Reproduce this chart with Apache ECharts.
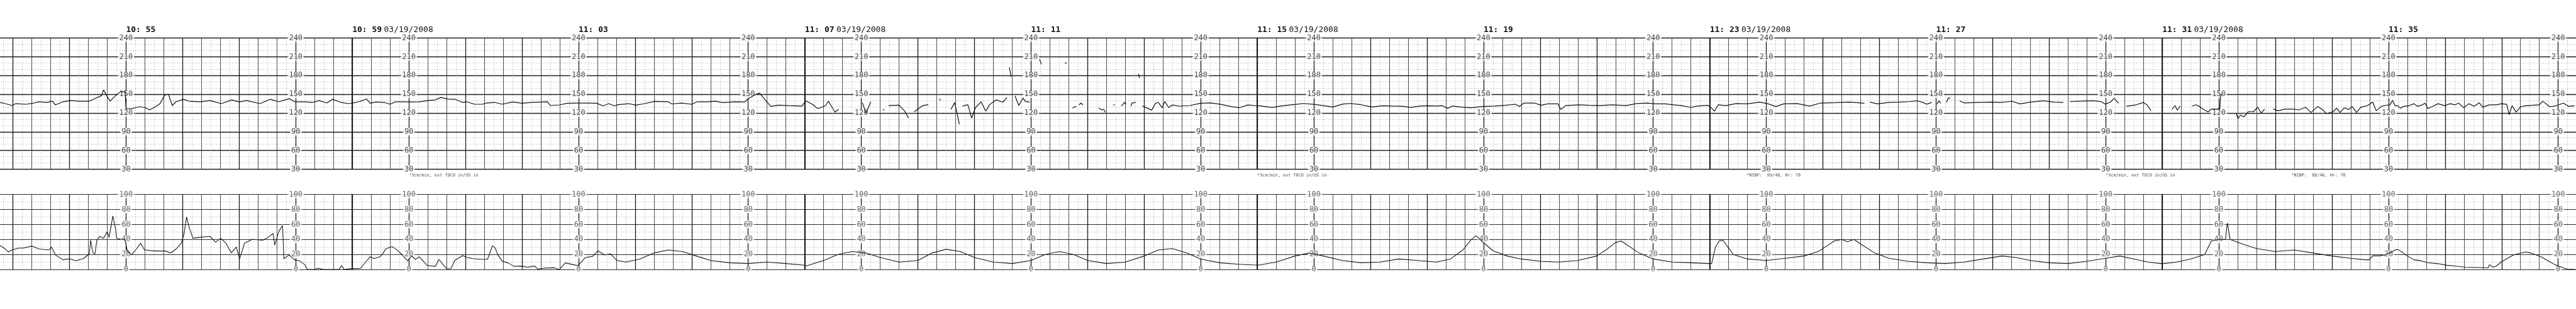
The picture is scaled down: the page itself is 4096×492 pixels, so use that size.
<!DOCTYPE html>
<html><head><meta charset="utf-8">
<script src="https://cdn.jsdelivr.net/npm/echarts@6/dist/echarts.min.js"></script>
<style>html,body{margin:0;padding:0;background:#fff;}#c{width:4096px;height:492px;}</style>
</head><body><div id="c"></div>
<script>
// ---------- DATA (x = seconds after 10:55:00 along the strip) ----------
const fhrTicks = [240, 210, 180, 150, 120, 90, 60, 30];
const ucTicks = [100, 80, 60, 40, 20, 0];
const columnSec = [0, 180, 300, 480, 660, 780, 960, 1140, 1260, 1440, 1620, 1740, 1920, 2100, 2220, 2400, 2580];
const timeTickSec = [0, 240, 480, 720, 960, 1200, 1440, 1680, 1920, 2160, 2400];
const timeLabels = ['10: 55', '10: 59', '11: 03', '11: 07', '11: 11', '11: 15', '11: 19', '11: 23', '11: 27', '11: 31', '11: 35'];
const timeDates = ['', '03/19/2008', '', '03/19/2008', '', '03/19/2008', '', '03/19/2008', '', '03/19/2008', ''];
const pageStartSec = [240, 720, 1200, 1680, 2160];
const noteSec = [300, 1200, 1719, 2100, 2297];
const noteTexts = ['*3cm/min, ext TOCO in/US in', '*3cm/min, ext TOCO in/US in', '*NIBP:  99/48, Hr: 78', '*3cm/min, ext TOCO in/US in', '*NIBP:  88/46, Hr: 70'];

// FHR (bpm), per page
const fhrSec1 = [-134,-128,-121,-117,-106,-98,-92,-84,-78,-75, -67,-59,-50,-39,-33,-26,-24,-21,-17,-11, -6,-1,0,6,14,20,25,31,36,41, 45,49,53,61,67,78,89,101,112,120, 128,142,153,162,173,179,190,198,205,213, 219,228,236];
const fhrBpm1 = [137,135,132,135,134,136,138,137,139,133, 138,140,139,139,143,148,157,149,139,148, 154,154,127,127,130,129,125,130,135,149, 150,132,138,142,139,138,140,135,141,138, 140,135,142,138,143,138,138,137,140,136, 142,137,135];
const fhrSec2 = [244,251,255,259,265,274,280,286,295,303, 311,320,328,334,341,349,357,361,370,378, 382,391,399,410,420,430,441,447,450,460, 468,480,491,499,506,512,518,522,533,541, 550,561,575,579,589,600,606,617,625,633, 645,656,660,667,672,678,684,692,703,717];
const fhrBpm2 = [137,140,142.5,135.6,137.6,137,134,138,138,137.6, 138,140,141,145,142.5,142,137,138,134,134, 136,137,134,137.6,135.6,137,137.6,138,132,133, 135.6,136,136,135.6,131.5,135,131.5,133.4,135,132.6, 135,138.7,138,134.5,136,134,138,138,139,136.7, 138,137.6,142.8,149,152,141,130.7,132.6,131.8,131.2];
const fhrSec3 = [721,728,734,742,745,752,756,757,781,785, 790,791,803,804,805,809,820,826,830,831, 836,845,851,852,863,864,865,875,879,884, 885,887,893,897,901,907,912,916,923,930, 934.5,936,937,939,940,943,947,951.5,954,958.5, 960,969,971,972,996,998,999,1004,1008,1009, 1011,1013,1015,1016,1032,1035,1037,1039,1040,1047, 1049,1050,1056,1059,1061,1062,1066,1067,1071,1072, 1074,1075,1076,1078,1084,1088,1092,1095,1099,1102, 1106,1110,1117,1128.5,1140,1151,1162,1173,1181.5,1190];
const fhrBpm3 = [139.5,134,127,131.8,139,121.5,126,null,136.7,120, 138,null,126,124,null,131.8,132.6,123,112,null, 122,131.8,133.4,null,143,140,null,125.7,136.7,102, null,131,133.4,112,128.5,138,123,133.4,141,137.3, 145,null,193,178,null,147.5,132,144,138.4,137.6, null,206,198,null,200,200,null,128,131,null, 133,136,133,null,128,125,126,121,null,133, 133,null,131,137,134,null,131,136,137,null, 183,176,null,131.5,127.4,124.6,135.6,137,128.7,138.4, 128.7,132.9,131,132,135.6,136.2,133.7,130.1,128.7,132.9];
const fhrSec4 = [1200,1202,1215.5,1227,1241,1249,1260,1271,1280,1291, 1299,1310,1321.5,1333,1344,1355,1363,1372,1383,1391, 1396,1402,1407,1416,1427,1438,1452,1463,1474,1478, 1483,1494,1501,1508,1519,1522,1527,1541,1552,1563, 1577,1591,1602.5,1614,1622,1633,1641.5,1650,1660,1667, 1678];
const fhrBpm4 = [131.5,131.7,128.9,131.7,133.9,135.3,133.9,131.7,129.7,134.4, 135.3,133.3,129.7,131.7,131.1,130.6,128.9,131.1,131.7,131.1, 131.8,127.6,131.2,129.6,128.4,130.4,131.2,132.4,134,130.4, 136,136,132.4,134.6,134.6,125.6,131.8,133.2,132.4,131.8, 133.2,131.8,135.2,136,134.6,134.6,133.2,131.8,129,131.2, 132.4];
const fhrSec5 = [1682,1685,1689,1697,1708,1719.5,1733,1742,1750,1758.5, 1772.5,1786,1797.6,1814,1828,1833,1844,1847,1850,1858, 1869.5,1880.6,1892,1900,1906,1910,1915.5,1918,1921,1923, 1925,1927,1931,1933,1935,1938,1945,1950,1964,1978, 1989,2000.5,2009,2020,2034,2045,2055,2058,2062,2076, 2087,2095,2099.5,2105,2109,2113.5,2117,2122,2131.6,2140, 2144,2148,2150];
const fhrBpm5 = [127.6,123,133.2,131.8,135.2,134.6,137.4,134.6,130.4,134.6, 135.2,131.2,136,136.6,137.4,137,135.6,null,137.5,134.7, 136.9,137.5,138.3,139.6,136.9,134.2,136.9,null,134,139.6, 135.6,null,137,144,143.7,null,139.6,136.1,136.9,137.5, 136.9,138.8,134.7,137.5,139.6,137.5,136.9,null,138.3,139.1, 139.6,138.3,134.2,137.5,143.7,135.6,null,130.9,132.8,136.9, 132.8,123.8,null];
const fhrSec6 = [2170.6,2173.4,2176,2179,2183,2191.5,2195.7,2199.3,2203,2208.5, 2212,2217.6,2221,2222,2224,2226,2238.5,2240.3,2243,2246.7, 2251.3,2256.7,2261.3,2265,2268.6,2272,2277.7,2283,2290.4,2297.7, 2305,2312.3,2317.7,2325,2330.5,2334,2341.4,2345,2348.7,2353, 2357.8,2361.4,2366,2370.5,2377.8,2383.3,2386.9,2392.4,2396,2401.5, 2404.3,2407,2409.7,2412.4,2416,2421.6,2427,2430.6,2436,2438.8, 2441.6,2447,2452.5,2459.8,2465.3,2470.7,2474.4,2479.8,2485.3,2490.8, 2496.2,2500,2507,2514.5,2520,2525.4,2528,2531,2535.4,2540, 2545.4,2552.7,2560,2563.6,2571,2578,2585.5,2591,2597.3];
const fhrBpm6 = [126,132,124.5,131,null,131,133.3,130.6,126.4,121.7, 126.4,126.4,126.4,148.6,150,null,118.9,111,116.7,113.9, 122.2,122.2,129.2,120,126.4,null,126.4,123.6,126.4,126.4, 125,129.2,120.8,130.6,125,118.9,122.2,127.8,120.8,128.3, 125.6,130.6,120.8,129.2,132,137.5,123.6,130.6,132,133.2, 140.2,131.7,131.7,127.6,130.7,131.7,134.9,130.7,133.2,135.8, 127,130.7,134.9,131.7,134.9,133.2,135.8,128.4,134.9,130.7, 136.4,129.4,133.2,133.2,134.9,133.9,117.4,131.7,121.3,130, 131.7,132.4,133.2,138.9,130,131.7,135.8,130.7,131.7];

// UC (mmHg)
const ucSecA = [-134,-128,-125,-121,-114,-109,-100,-92,-82,-79, -75,-67,-60,-53,-45,-39,-37.6,-35,-33,-31, -28,-24,-20,-18,-14,-11,-10,-5.5,-1.3,1.4, 5.6,11,15.4,19.6,30.7,42,47.5,53,58.6,61.4, 64.2,67,71,78,89,95,100.5,106,111.6,117, 120.5,125.6,134,145,150.7,156,157.7,162,166,167.4, 173,178.5,184,189.6,192.4,200.7,203.5,209,225.8,228.7, 231.4,239.8,248.5,254.8,258.9,263,269.4,272.5,275.7,282, 286,292.4,298.7,302.8,307,311,319.6,328,332,336.3, 340.5,344.6,348.8,357,361.4,367.6,378,383.3,385.5,388.6, 391.7,393.8,399,405.3,411.6,420,426,433.5,436.6,445, 454.4,459.6,466,474.3,479.5,487,495,500.5,507.7,514, 520.3];
const ucValA = [32.5,27.3,23.4,26,28.6,28.6,31.2,27.3,26,29.9, 19.5,13,14.3,11.7,14.8,20.8,39,22.1,20.8,39, 44.2,41.6,50.6,42.9,71.4,53.2,41.6,40.3,40.3,24.7, 19.5,27.3,35,26,24.7,24.7,22.1,27.3,35,46.8, 70.1,55.8,41.6,42.9,44.2,36.4,41.6,35,22.1,29.9, 14.3,35,40.3,39,42.9,48,32.5,50.6,58.4,14.3, 19.5,13,11.7,6.5,0,0,1.8,0,0,5.2, 0,1.3,1.4,11,17,14.6,17,21.6,27.8,30.4, 27.4,20.4,11.6,18.1,13.5,17,5.3,4.2,13.5,6.5, 0.7,1.4,12.3,18.6,16.2,14.6,13.5,13.5,20.4,31.6, 28.5,20.9,11.1,8.8,4.2,4.6,3,4.6,0.7,1.9, 2.3,0,8.8,6.5,5.3,15.8,17.6,25,19.3,20.9, 12.3];
const ucSecM = [530,545,560,575,590,605,620,640,660,680, 700,718,722,740,755,770,785,800,820,840, 855,870,885,900,920,940,960,975,990,1005, 1020,1040,1060,1080,1095,1110,1125,1140,1160,1180, 1198,1202,1220,1240,1255,1270,1290,1310,1330,1350, 1370,1390,1405,1418,1427,1432,1438,1450,1465,1480, 1500,1520,1540,1560,1572,1580,1586,1592,1605,1620, 1640,1660,1678,1682,1686,1690,1694,1698,1705,1720, 1740,1760,1780,1795,1805,1812,1820,1826,1833,1840, 1855,1870,1890,1910,1930,1950,1970,1990,2005,2020, 2040,2060,2080,2100,2115,2130,2145,2158,2162,2175, 2190,2205,2212,2220,2227,2229,2232,2245,2260,2280, 2300,2320,2340,2360,2375];
const ucValM = [10,14,22,26,24,18,12,9,8,10, 8,6,5,12,20,24,22,16,10,12, 22,27,24,16,10,8,12,20,24,20, 12,8,10,18,26,28,22,14,9,7, 6,6,10,18,22,18,12,9,10,14, 12,10,14,26,40,45,38,25,18,14, 11,10,12,18,28,36,38,33,22,14, 10,9,8,8,30,38,39,32,20,14, 12,15,18,24,32,38,40,37,40,34, 22,15,11,9,8,10,14,18,16,12, 9,8,11,15,18,14,10,8,8,10, 14,20,38,40,40,62,40,34,28,24, 26,22,18,15,13];
const ucSecB = [2379.6,2383.3,2390.5,2396,2401.5,2407,2409.7,2414.3,2419.7,2427, 2434.4,2441.6,2452.5,2461.7,2470.7,2481.7,2496.2,2505.4,2507.2,2510.9, 2514.5,2519.9,2525.4,2532.7,2540,2545.4,2550.9,2556.4,2561.9,2569.2, 2576.5,2582,2589.3,2598.4];
const ucValB = [13,18.2,18.2,19.5,22,26,26.8,23.4,18.2,13, 11.7,9.1,7.8,5.7,4.7,3.1,2.6,2,6.5,3.1, 4.7,10.4,14.3,19.5,21.6,23.4,22,19.5,16.9,11.7, 6.5,3.9,0.5,0];

// ---------- LAYOUT ----------
const S = 0.819, W = 4096;
const PX_PER_SEC = 1.8302 * S;
const X_AT_ZERO = 244.75 * S;
const X_MIN = -240, X_MAX = 2620;
const gridLeft = X_AT_ZERO + X_MIN * PX_PER_SEC;
const gridRight = W - (X_AT_ZERO + X_MAX * PX_PER_SEC);
const FHR_TOP = 74 * S, FHR_BOT = 329 * S;
const UC_TOP = 378 * S, UC_BOT = 524 * S;
const MONO = 'DejaVu Sans Mono';

function zip(a, b, name) {
  if (a.length !== b.length) throw new Error(name + ' length mismatch ' + a.length + ' vs ' + b.length);
  return a.map((t, i) => [t, b[i] === null ? '-' : b[i]]);
}
const fhrData = [].concat(
  zip(fhrSec1, fhrBpm1, 'p1'), zip(fhrSec2, fhrBpm2, 'p2'), zip(fhrSec3, fhrBpm3, 'p3'),
  zip(fhrSec4, fhrBpm4, 'p4'), zip(fhrSec5, fhrBpm5, 'p5'), zip(fhrSec6, fhrBpm6, 'p6'));
const ucData = [].concat(zip(ucSecA, ucValA, 'ucA'), zip(ucSecM, ucValM, 'ucM'), zip(ucSecB, ucValB, 'ucB'));

const fhrLabelData = [], ucLabelData = [];
columnSec.forEach(c => {
  fhrTicks.forEach(v => fhrLabelData.push([c, v]));
  ucTicks.forEach(v => ucLabelData.push([c, v]));
});
const noteData = noteSec.map((t, i) => ({ value: [t, 30], name: noteTexts[i] }));

const gridLine = { color: '#3a3a3a', width: 0.9 };
const dotLine = { color: '#8a8a8a', width: 0.8, type: [1, 2.5] };
function xAx(gi, interval, opts) {
  return Object.assign({
    gridIndex: gi, type: 'value', min: X_MIN, max: X_MAX, interval: interval,
    axisLine: { show: false, onZero: false }, axisTick: { show: false }, axisLabel: { show: false },
    splitLine: { show: false }, minorSplitLine: { show: false }
  }, opts);
}
const xAxes = [
  xAx(0, 20, { splitLine: { show: true, lineStyle: gridLine }, minorTick: { show: false, splitNumber: 2 }, minorSplitLine: { show: true, lineStyle: dotLine } }),
  xAx(0, 60, { splitLine: { show: true, lineStyle: { color: '#1a1a1a', width: 1.3 } } }),
  xAx(0, 240, { position: 'top', axisLabel: {
      show: true, align: 'left', verticalAlign: 'bottom', margin: 6,
      formatter: v => { const i = timeTickSec.indexOf(v); if (i < 0) return ''; return '{t|' + timeLabels[i] + '}' + (timeDates[i] ? ' {d|' + timeDates[i] + '}' : ''); },
      rich: { t: { fontFamily: MONO, fontWeight: 'bold', fontSize: 13, color: '#111' }, d: { fontFamily: MONO, fontSize: 13, color: '#111' } }
  } }),
  xAx(1, 20, { splitLine: { show: true, lineStyle: gridLine }, minorTick: { show: false, splitNumber: 2 }, minorSplitLine: { show: true, lineStyle: dotLine } }),
  xAx(1, 60, { splitLine: { show: true, lineStyle: { color: '#1a1a1a', width: 1.3 } } })
];
const yAxes = [
  { gridIndex: 0, type: 'value', min: 30, max: 240, interval: 30, axisLine: { show: false }, axisTick: { show: false }, axisLabel: { show: false },
    splitLine: { show: true, lineStyle: { color: '#1e1e1e', width: 1.3 } }, minorTick: { show: false, splitNumber: 3 }, minorSplitLine: { show: true, lineStyle: dotLine } },
  { gridIndex: 1, type: 'value', min: 0, max: 100, interval: 20, axisLine: { show: false }, axisTick: { show: false }, axisLabel: { show: false },
    splitLine: { show: true, lineStyle: { color: '#2a2a2a', width: 1.2 } }, minorTick: { show: false, splitNumber: 2 }, minorSplitLine: { show: true, lineStyle: dotLine } }
];
const pageLines = pageStartSec.map(t => ({ xAxis: t }));
const markPages = { silent: true, symbol: 'none', label: { show: false }, lineStyle: { color: '#111', width: 1.8, type: 'solid' }, data: pageLines, animation: false };
const labelStyle = (color) => ({ show: true, position: 'inside', formatter: p => String(p.value[1]), fontFamily: MONO, fontSize: 12, color: color, backgroundColor: '#fff', padding: [0, 2] });

const chart = echarts.init(document.getElementById('c'), null, { renderer: 'canvas' });
chart.setOption({
  backgroundColor: '#fff',
  animation: false,
  grid: [
    { left: gridLeft, right: gridRight, top: FHR_TOP, height: FHR_BOT - FHR_TOP, containLabel: false, outerBoundsMode: 'none' },
    { left: gridLeft, right: gridRight, top: UC_TOP, height: UC_BOT - UC_TOP, containLabel: false, outerBoundsMode: 'none' }
  ],
  xAxis: xAxes,
  yAxis: yAxes,
  series: [
    { type: 'scatter', name: 'fhrLabels', xAxisIndex: 0, yAxisIndex: 0, data: fhrLabelData, symbolSize: 0, silent: true, clip: false, z: 3,
      label: labelStyle('#222') },
    { type: 'scatter', name: 'ucLabels', xAxisIndex: 3, yAxisIndex: 1, data: ucLabelData, symbolSize: 0, silent: true, clip: false, z: 3,
      label: labelStyle('#444') },
    { type: 'line', name: 'FHR', xAxisIndex: 0, yAxisIndex: 0, data: fhrData, showSymbol: false, connectNulls: false, z: 5, silent: true,
      lineStyle: { color: '#111', width: 1.2 }, markLine: markPages },
    { type: 'line', name: 'UC', xAxisIndex: 3, yAxisIndex: 1, data: ucData, showSymbol: false, connectNulls: false, z: 5, silent: true,
      lineStyle: { color: '#1a1a1a', width: 1.1 }, markLine: markPages },
    { type: 'scatter', name: 'notes', xAxisIndex: 0, yAxisIndex: 0, data: noteData, symbolSize: 0, silent: true, clip: false, z: 3,
      label: { show: true, position: [0, 6], align: 'left', verticalAlign: 'top', formatter: p => p.name, fontFamily: MONO, fontSize: 6.8, color: '#222' } }
  ]
});
</script></body></html>
